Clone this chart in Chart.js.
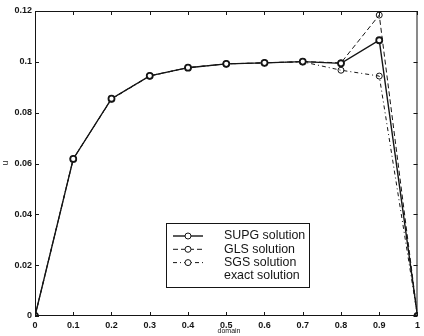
<!DOCTYPE html>
<html>
<head>
<meta charset="utf-8">
<script src="https://cdn.jsdelivr.net/npm/chart.js@4.4.1/dist/chart.umd.min.js"></script>
<style>
  html, body { margin: 0; padding: 0; background: #fff; }
  #wrap { width: 424px; height: 336px; }
</style>
</head>
<body>
<div id="wrap"><canvas id="chart" width="424" height="336"></canvas></div>
<script>
// ---- data ----
const domainValues = [0, 0.1, 0.2, 0.3, 0.4, 0.5, 0.6, 0.7, 0.8, 0.9, 1.0];
const supgValues = [0, 0.0618, 0.0855, 0.0945, 0.0977, 0.0992, 0.0996, 0.1001, 0.0994, 0.1085, 0];
const glsValues  = [0, 0.0618, 0.0855, 0.0945, 0.0977, 0.0992, 0.0996, 0.1001, 0.0996, 0.1184, 0];
const sgsValues  = [0, 0.0618, 0.0853, 0.0944, 0.0977, 0.0992, 0.0996, 0.1000, 0.0967, 0.0944, 0];
const seriesLabels = ['SUPG solution', 'GLS solution', 'SGS solution', 'exact solution'];
const xTickValues = [0, 0.1, 0.2, 0.3, 0.4, 0.5, 0.6, 0.7, 0.8, 0.9, 1];
const yTickValues = [0, 0.02, 0.04, 0.06, 0.08, 0.1, 0.12];

const INK = '#151515';
const tickFont = { family: 'Liberation Sans, Arial, sans-serif', size: 9, weight: 'bold' };

function toPoints(values) {
    return domainValues.map((x, i) => ({ x: x, y: values[i] }));
}

function fmt(v) {
    return String(Math.round(v * 100) / 100);
}

// ---- box, inward ticks, axis titles and legend ----
const framePlugin = {
    id: 'frame',
    afterDraw(chart) {
        const ctx = chart.ctx;
        const a = chart.chartArea;
        const xs = chart.scales.x, ys = chart.scales.y;
        ctx.save();
        ctx.strokeStyle = INK;
        ctx.lineWidth = 1;
        ctx.strokeRect(a.left + 0.5, a.top + 0.5, a.right - a.left - 1, a.bottom - a.top - 1);

        ctx.beginPath();
        xTickValues.forEach(v => {
            const px = Math.round(xs.getPixelForValue(v)) + 0.5;
            ctx.moveTo(px, a.bottom); ctx.lineTo(px, a.bottom - 4);
            ctx.moveTo(px, a.top); ctx.lineTo(px, a.top + 4);
        });
        yTickValues.forEach(v => {
            const py = Math.round(ys.getPixelForValue(v)) + 0.5;
            ctx.moveTo(a.left, py); ctx.lineTo(a.left + 4, py);
            ctx.moveTo(a.right, py); ctx.lineTo(a.right - 4, py);
        });
        ctx.stroke();

        // axis titles
        ctx.fillStyle = INK;
        ctx.font = '7px Liberation Sans, Arial, sans-serif';
        ctx.textAlign = 'center';
        ctx.textBaseline = 'middle';
        ctx.fillText('domain', 229, 331);
        ctx.save();
        ctx.translate(6, 163);
        ctx.rotate(-Math.PI / 2);
        ctx.font = '9px Liberation Sans, Arial, sans-serif';
        ctx.fillText('u', 0, 0);
        ctx.restore();

        // legend
        const box = { x: 166, y: 223, w: 143, h: 64 };
        ctx.fillStyle = '#fff';
        ctx.fillRect(box.x, box.y, box.w, box.h);
        ctx.strokeStyle = INK;
        ctx.strokeRect(box.x + 0.5, box.y + 0.5, box.w, box.h);
        ctx.font = '12.4px Liberation Sans, Arial, sans-serif';
        ctx.textAlign = 'left';
        seriesLabels.forEach((label, i) => {
            const cy = 236 + i * 13.3;
            const ds = chart.data.datasets[i];
            if (ds && ds.data.length) {
                ctx.setLineDash(ds.borderDash || []);
                ctx.lineWidth = ds.borderWidth;
                ctx.beginPath();
                ctx.moveTo(173, cy); ctx.lineTo(203, cy);
                ctx.stroke();
                ctx.setLineDash([]);
                ctx.lineWidth = 1;
                ctx.beginPath();
                ctx.arc(188, cy, 3, 0, Math.PI * 2);
                ctx.fillStyle = '#fff';
                ctx.fill();
                ctx.stroke();
            }
            ctx.fillStyle = INK;
            ctx.fillText(label, 224, cy);
        });
        ctx.restore();
    }
};

new Chart(document.getElementById('chart'), {
    type: 'line',
    data: {
        datasets: [
            {
                label: seriesLabels[0],
                data: toPoints(supgValues),
                borderColor: INK, borderWidth: 1.4,
                pointRadius: 3, pointBorderWidth: 1.8,
                pointBackgroundColor: '#fff', pointBorderColor: INK
            },
            {
                label: seriesLabels[1],
                data: toPoints(glsValues),
                borderColor: INK, borderWidth: 1, borderDash: [5, 3],
                pointRadius: 3, pointBorderWidth: 1,
                pointBackgroundColor: 'rgba(255,255,255,0)', pointBorderColor: INK
            },
            {
                label: seriesLabels[2],
                data: toPoints(sgsValues),
                borderColor: INK, borderWidth: 1, borderDash: [4, 3, 1, 3],
                pointRadius: 3, pointBorderWidth: 1,
                pointBackgroundColor: 'rgba(255,255,255,0)', pointBorderColor: INK
            },
            {
                label: seriesLabels[3],
                data: [],
                borderColor: INK, borderWidth: 1, pointRadius: 0
            }
        ]
    },
    options: {
        responsive: false,
        animation: false,
        layout: { padding: { top: 11, right: 1, left: 0, bottom: 0 } },
        plugins: {
            legend: { display: false },
            tooltip: { enabled: false }
        },
        scales: {
            x: {
                type: 'linear',
                min: 0, max: 1,
                afterBuildTicks: (scale) => { scale.ticks = xTickValues.map(v => ({ value: v })); },
                afterFit: (scale) => { scale.height = 20; },
                grid: { display: false, drawTicks: false },
                border: { display: false },
                ticks: { color: INK, font: tickFont, padding: 4, maxRotation: 0, callback: fmt }
            },
            y: {
                min: 0, max: 0.12,
                afterBuildTicks: (scale) => { scale.ticks = yTickValues.map(v => ({ value: v })); },
                afterFit: (scale) => { scale.width = 35; },
                grid: { display: false, drawTicks: false },
                border: { display: false },
                ticks: { color: INK, font: tickFont, padding: 3, callback: fmt }
            }
        }
    },
    plugins: [framePlugin]
});
</script>
</body>
</html>
